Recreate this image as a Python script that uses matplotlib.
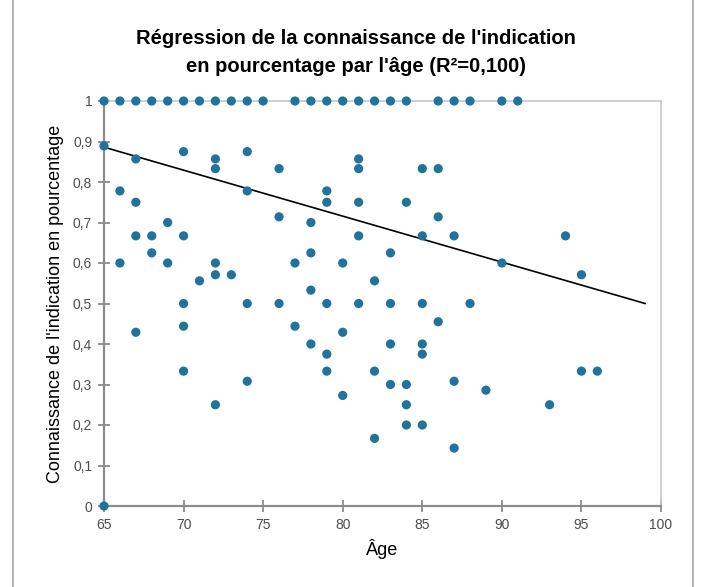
import matplotlib
matplotlib.use('Agg')
import matplotlib.pyplot as plt
from matplotlib.patches import Rectangle

plt.rcParams['font.family'] = ['Liberation Sans', 'DejaVu Sans']

# points at 1 (100 %)
ages_full = [65, 66, 67, 68, 69, 70, 71, 72, 73, 74, 75, 77, 78, 79, 80,
             81, 82, 83, 84, 86, 87, 88, 90, 91]

# the other points
ages = [65, 67, 70, 72, 72, 74, 76, 66, 67, 74, 69, 76, 67, 68, 70,
        81, 81, 85, 86, 79, 79, 81, 84, 78, 86, 81, 85, 87, 94, 68,
        66, 69, 72, 72, 73, 71, 70, 74, 76, 70, 67, 70, 78, 83, 77,
        80, 82, 78, 79, 81, 83, 85, 88, 77, 86, 80, 78, 83, 85, 79,
        85, 79, 82, 90, 95, 95, 96, 74, 72, 65, 83, 84, 87, 80, 84,
        84, 85, 82, 87, 89, 93]
scores = [0.889, 0.857, 0.875, 0.857, 0.833, 0.875, 0.833, 0.778, 0.75, 0.778,
          0.7, 0.714, 0.667, 0.667, 0.667,
          0.857, 0.833, 0.833, 0.833, 0.778, 0.75, 0.75, 0.75, 0.7, 0.714,
          0.667, 0.667, 0.667, 0.667, 0.625,
          0.6, 0.6, 0.6, 0.571, 0.571, 0.556, 0.5, 0.5, 0.5, 0.444,
          0.429, 0.333, 0.625, 0.625, 0.6,
          0.6, 0.556, 0.533, 0.5, 0.5, 0.5, 0.5, 0.5, 0.444, 0.455,
          0.429, 0.4, 0.4, 0.4, 0.375,
          0.375, 0.333, 0.333, 0.6, 0.571, 0.333, 0.333, 0.308, 0.25, 0.0,
          0.3, 0.3, 0.308, 0.273, 0.25,
          0.2, 0.2, 0.167, 0.143, 0.286, 0.25]

# regression line ends
reg_ages = [65, 99]
reg_scores = [0.886, 0.5]

x_ticks = [65, 70, 75, 80, 85, 90, 95, 100]
y_ticks = [0, 0.1, 0.2, 0.3, 0.4, 0.5, 0.6, 0.7, 0.8, 0.9, 1]
y_labels = ['0', '0,1', '0,2', '0,3', '0,4', '0,5', '0,6', '0,7', '0,8', '0,9', '1']

fig = plt.figure(figsize=(7.03, 5.87), dpi=100)
ax = fig.add_axes([104 / 703, 1 - 506 / 587, 557 / 703, 405 / 587])

dot = '#22739c'
ax.scatter(ages_full + ages, [1] * len(ages_full) + scores, s=44, color=dot,
           edgecolors='none', zorder=3, clip_on=False)
ax.plot(reg_ages, reg_scores, color='black', lw=1.2, zorder=2)

ax.set_xlim(65, 100)
ax.set_ylim(0, 1)
ax.set_xticks(x_ticks)
ax.set_yticks(y_ticks)
ax.set_yticklabels(y_labels)

axis_grey = '#8c8c8c'
for side in ['left', 'bottom']:
    ax.spines[side].set_color(axis_grey)
    ax.spines[side].set_linewidth(1.6)
for side in ['top', 'right']:
    ax.spines[side].set_color('#c8c8c8')
    ax.spines[side].set_linewidth(1.2)

ax.tick_params(direction='inout', length=9, width=1.3, color=axis_grey,
               labelsize=10, labelcolor='#4d4d4d', pad=4)

ax.set_xlabel('Âge', fontsize=13, labelpad=5)
ax.set_ylabel("Connaissance de l'indication en pourcentage", fontsize=13, labelpad=6)

fig.text(0.507, 1 - 52 / 587, "Régression de la connaissance de l'indication\n"
         "en pourcentage par l'âge (R²=0,100)", ha='center', va='center',
         fontsize=14.5, fontweight='bold', linespacing=1.6)

# chart area frame
fig.patches.append(Rectangle((13 / 703, -0.01), 680 / 703, 1.02, transform=fig.transFigure,
                             fill=False, edgecolor='#a6a6a6', lw=1.2))

fig.savefig('out.png', dpi=100)
